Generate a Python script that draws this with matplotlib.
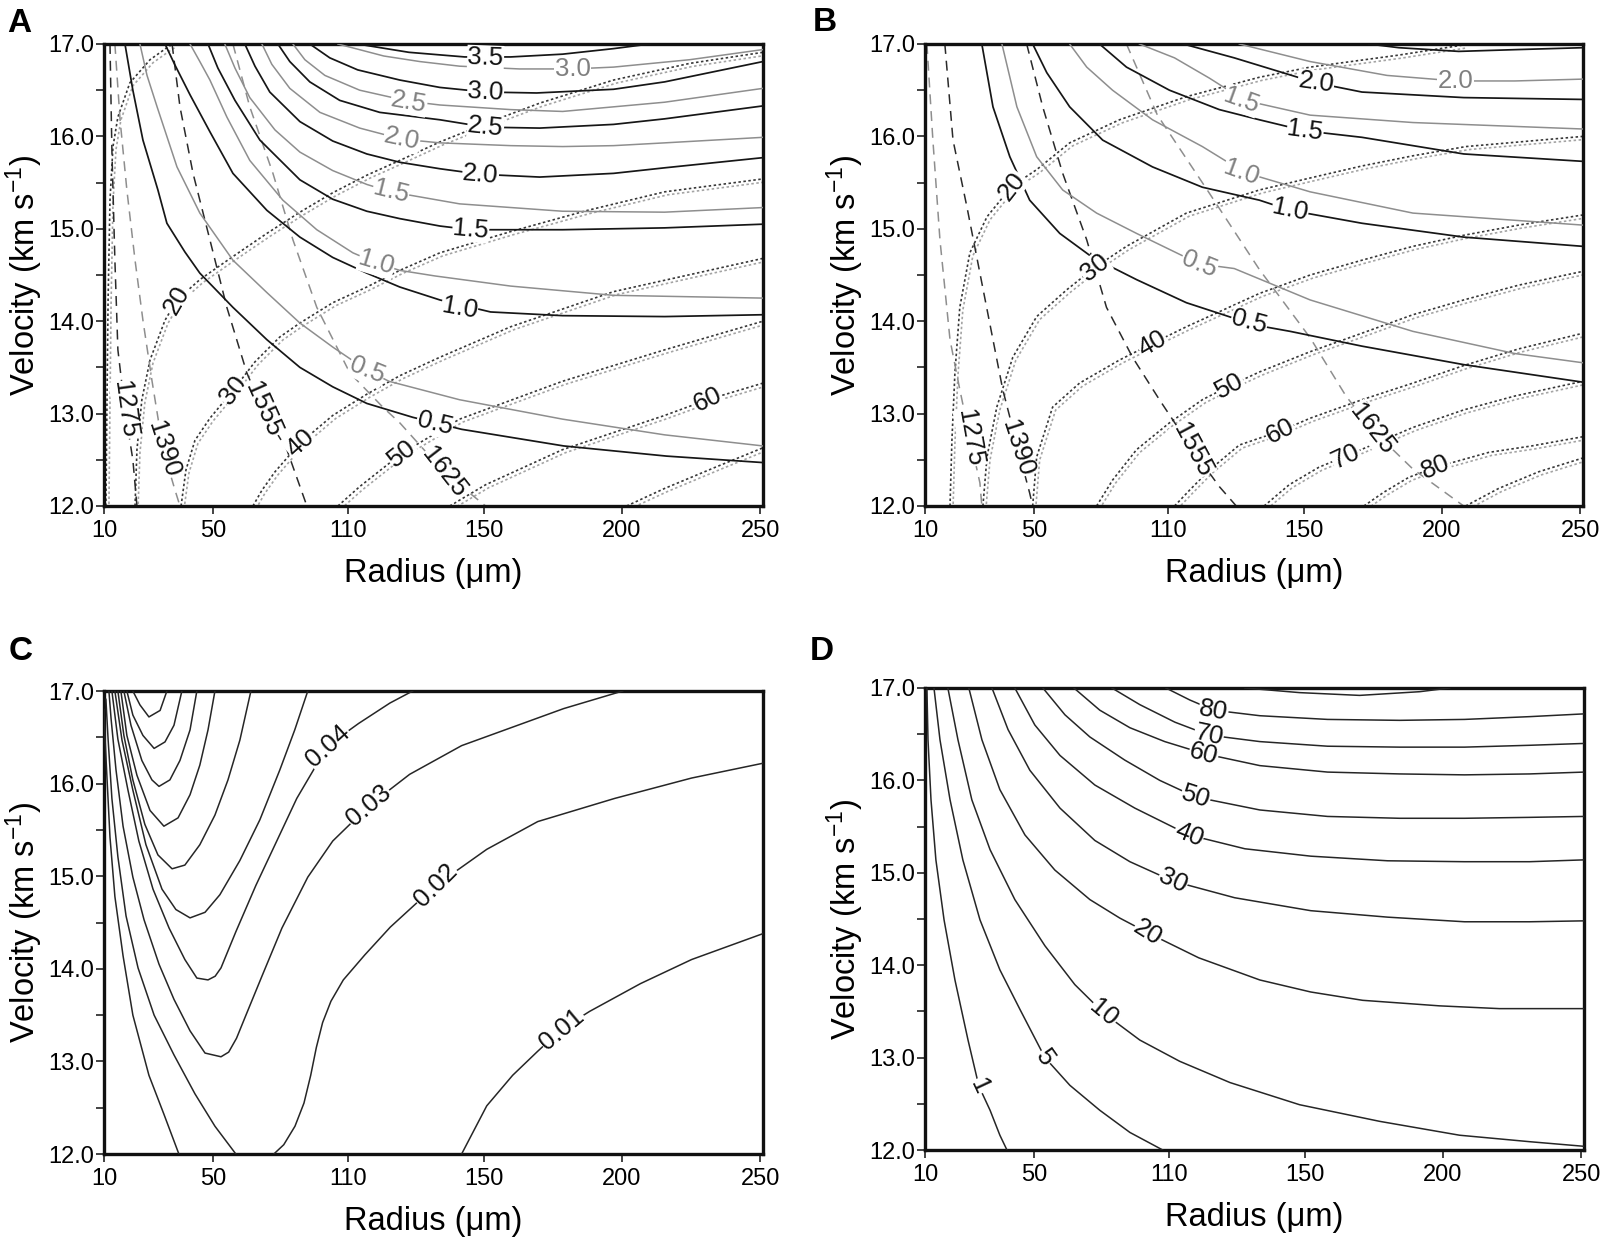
import numpy as np
import matplotlib
matplotlib.use("Agg")
import matplotlib.pyplot as plt
import matplotlib.transforms as mtransforms

plt.rcParams['font.family'] = ['Liberation Sans', 'DejaVu Sans']
plt.rcParams['mathtext.fontset'] = 'custom'
plt.rcParams['mathtext.rm'] = 'Liberation Sans'
plt.rcParams['mathtext.it'] = 'Liberation Sans:italic'

# axis ticks (the radius axis of the original is not linear: ticks are placed unevenly)
radius_ticks = [10, 50, 110, 150, 200, 250]
radius_tick_place = [0, 109, 244, 380, 518, 657]
velocity_ticks = [12.0, 13.0, 14.0, 15.0, 16.0, 17.0]

# ---------------- Panel A ----------------
# solid contours, black (k) and gray (g)
a_k05_r = [17.7, 20.6, 24.3, 29.8, 33.1, 39.7, 45.2, 58.9, 74.0, 88.7, 103.3, 115.6, 129.1, 143.5, 179.0, 216.2, 250.7]
a_k05_v = [17.00, 16.50, 15.96, 15.42, 15.06, 14.75, 14.52, 14.15, 13.80, 13.50, 13.29, 13.11, 12.96, 12.83, 12.65, 12.54, 12.47]
a_g05_r = [23.2, 25.8, 29.5, 36.8, 45.2, 58.9, 74.0, 88.7, 103.3, 115.6, 122.1, 142.9, 178.6, 215.5, 250.7]
a_g05_v = [17.00, 16.66, 16.32, 15.67, 15.17, 14.66, 14.31, 13.98, 13.72, 13.47, 13.35, 13.15, 12.94, 12.77, 12.65]
a_k10_r = [32.4, 36.1, 41.6, 48.9, 58.9, 74.0, 88.7, 103.3, 115.6, 125.3, 137.1, 152.5, 178.6, 215.5, 250.7]
a_k10_v = [17.00, 16.77, 16.45, 16.05, 15.60, 15.20, 14.91, 14.69, 14.52, 14.37, 14.23, 14.10, 14.06, 14.05, 14.07]
a_g10_r = [41.6, 45.2, 48.9, 56.2, 66.4, 81.1, 96.2, 111.5, 118.5, 125.3, 135.6, 159.8, 197.1, 250.7]
a_g10_v = [17.00, 16.81, 16.61, 16.21, 15.74, 15.31, 14.99, 14.74, 14.63, 14.55, 14.49, 14.38, 14.28, 14.25]
a_k15_r = [48.2, 52.2, 59.8, 70.9, 88.7, 103.3, 115.6, 125.3, 137.1, 146.2, 178.6, 215.5, 250.7]
a_k15_v = [17.00, 16.74, 16.39, 15.96, 15.53, 15.32, 15.19, 15.11, 15.03, 14.99, 14.99, 15.01, 15.05]
a_g15_r = [55.3, 59.8, 66.4, 77.6, 88.7, 103.3, 115.6, 122.7, 142.9, 178.6, 215.5, 250.7]
a_g15_v = [17.00, 16.74, 16.42, 16.07, 15.83, 15.63, 15.48, 15.40, 15.27, 15.19, 15.18, 15.23]
a_k20_r = [64.2, 68.7, 75.3, 88.7, 103.3, 115.6, 125.3, 137.1, 149.1, 170.3, 197.1, 215.5, 250.7]
a_k20_v = [17.00, 16.76, 16.48, 16.16, 15.95, 15.81, 15.72, 15.65, 15.59, 15.56, 15.60, 15.66, 15.77]
a_g20_r = [71.8, 76.2, 84.2, 97.6, 113.5, 125.9, 137.1, 159.8, 178.6, 197.1, 215.5, 250.7]
a_g20_v = [17.00, 16.78, 16.52, 16.26, 16.09, 15.97, 15.93, 15.90, 15.89, 15.90, 15.93, 15.99]
a_k25_r = [78.9, 84.2, 93.1, 106.4, 119.4, 137.1, 150.7, 170.3, 197.1, 215.5, 250.7]
a_k25_v = [17.00, 16.81, 16.59, 16.39, 16.26, 16.18, 16.10, 16.09, 16.13, 16.19, 16.33]
a_g25_r = [85.6, 90.9, 99.8, 113.5, 128.0, 137.1, 159.8, 178.6, 197.1, 215.5, 250.7]
a_g25_v = [17.00, 16.83, 16.66, 16.50, 16.38, 16.34, 16.29, 16.27, 16.32, 16.37, 16.52]
a_k30_r = [93.1, 102.0, 112.9, 125.3, 137.1, 150.7, 169.2, 197.1, 215.5, 250.7]
a_k30_v = [17.00, 16.85, 16.72, 16.61, 16.53, 16.48, 16.47, 16.51, 16.59, 16.81]
a_g30_r = [105.6, 120.6, 131.2, 142.9, 163.0, 182.2, 197.1, 224.5, 250.7]
a_g30_v = [17.00, 16.87, 16.81, 16.76, 16.73, 16.73, 16.75, 16.83, 16.94]
a_k35_r = [112.9, 128.0, 144.4, 159.8, 178.6, 197.1, 210.1]
a_k35_v = [17.00, 16.91, 16.86, 16.86, 16.89, 16.95, 17.00]

# double dotted contours
a_d10_r = [10.7, 11.1, 11.5, 12.2, 13.3, 15.1, 19.5, 26.9, 33.1, 35.3]
a_d10_v = [12.00, 13.15, 14.23, 15.31, 15.89, 16.21, 16.58, 16.83, 16.96, 17.00]
a_d20_r = [21.4, 22.1, 23.9, 26.9, 32.4, 36.8, 45.2, 58.9, 74.0, 88.7, 103.3, 115.6, 125.3, 137.1, 152.5, 170.3, 197.1, 224.5, 250.7]
a_d20_v = [12.00, 12.61, 13.15, 13.58, 14.01, 14.23, 14.45, 14.70, 14.95, 15.18, 15.39, 15.58, 15.74, 15.94, 16.16, 16.36, 16.61, 16.79, 16.91]
a_d30_r = [38.3, 40.1, 43.4, 48.9, 58.9, 68.7, 79.8, 88.7, 103.3, 115.6, 125.3, 137.1, 159.8, 187.7, 215.5, 250.7]
a_d30_v = [12.00, 12.39, 12.71, 12.95, 13.25, 13.56, 13.83, 13.98, 14.20, 14.37, 14.55, 14.74, 14.97, 15.20, 15.40, 15.54]
a_d40_r = [67.8, 71.8, 77.6, 88.7, 103.3, 115.6, 125.3, 137.1, 159.8, 197.1, 250.7]
a_d40_v = [12.00, 12.17, 12.37, 12.68, 12.98, 13.21, 13.41, 13.61, 13.94, 14.32, 14.68]
a_d50_r = [105.6, 113.5, 125.9, 142.9, 178.6, 215.5, 250.7]
a_d50_v = [12.00, 12.21, 12.57, 12.94, 13.35, 13.69, 14.00]
a_d60_r = [140.0, 150.7, 178.6, 215.5, 230.9, 250.7]
a_d60_v = [12.00, 12.23, 12.61, 12.98, 13.15, 13.33]
a_d70_r = [201.8, 215.5, 233.8, 250.7]
a_d70_v = [12.00, 12.19, 12.42, 12.63]

# dashed contours
a_1275_r = [12.2, 12.9, 14.0, 15.1, 17.7, 20.6, 22.1]
a_1275_v = [17.00, 15.85, 14.66, 13.69, 13.04, 12.50, 12.00]
a_1390_r = [14.0, 15.9, 18.4, 21.4, 24.3, 27.6, 31.7, 36.1, 37.9]
a_1390_v = [17.00, 16.18, 15.42, 14.66, 14.01, 13.36, 12.61, 12.17, 12.00]
a_1555_r = [35.0, 37.9, 42.7, 48.9, 56.2, 65.1, 72.2, 82.9, 91.8]
a_1555_v = [17.00, 16.32, 15.60, 14.88, 14.15, 13.44, 13.04, 12.61, 12.00]
a_1625_r = [58.9, 66.4, 76.7, 85.6, 96.2, 110.6, 120.3, 125.3, 138.5, 150.7]
a_1625_v = [17.00, 16.32, 15.60, 14.88, 14.15, 13.44, 13.07, 12.90, 12.36, 12.00]

a_lab_txt = ["3.5", "3.0", "3.0", "2.5", "2.5", "2.0", "2.0", "1.5", "1.5", "1.0", "1.0", "0.5", "0.5",
             "20", "30", "40", "50", "60", "1275", "1390", "1555", "1625"]
a_lab_r = [150.7, 182.2, 150.7, 128.0, 150.7, 125.9, 149.1, 122.7, 146.2, 118.5, 142.9, 115.6, 135.6,
           36.8, 58.9, 88.7, 125.9, 230.9, 17.7, 31.7, 72.2, 138.5]
a_lab_v = [16.85, 16.73, 16.48, 16.37, 16.10, 15.97, 15.59, 15.40, 14.99, 14.63, 14.14, 13.47, 12.89,
           14.23, 13.25, 12.68, 12.57, 13.15, 13.04, 12.61, 13.04, 12.36]
a_lab_gray = [0, 1, 0, 1, 0, 1, 0, 1, 0, 1, 0, 1, 0, 0, 0, 0, 0, 0, 0, 0, 0, 0]
a_lab_rot = [-2, 0, -3, -10, -6, -12, -5, -14, -5, -17, -10, -22, -14, 60, 52, 42, 38, 25, -82, -72, -66, -52]

# ---------------- Panel B ----------------
b_k05_r = [30.9, 35.0, 41.2, 48.5, 61.6, 76.2, 95.8, 115.3, 135.3, 145.9, 171.0, 207.9, 250.7]
b_k05_v = [17.00, 16.32, 15.78, 15.31, 14.95, 14.69, 14.45, 14.20, 13.96, 13.89, 13.73, 13.53, 13.34]
b_g05_r = [38.3, 43.8, 51.3, 62.9, 78.0, 95.8, 119.1, 129.4, 152.2, 189.5, 226.3, 250.7]
b_g05_v = [17.00, 16.32, 15.78, 15.42, 15.17, 14.95, 14.62, 14.57, 14.23, 13.89, 13.65, 13.55]
b_k10_r = [49.6, 55.8, 66.0, 80.7, 102.9, 120.0, 136.8, 145.9, 171.0, 207.9, 250.7]
b_k10_v = [17.00, 16.69, 16.32, 15.96, 15.67, 15.45, 15.31, 15.20, 15.06, 14.91, 14.81]
b_g10_r = [66.0, 73.6, 85.1, 102.9, 120.0, 132.4, 152.2, 189.5, 250.7]
b_g10_v = [17.00, 16.75, 16.50, 16.18, 15.89, 15.61, 15.40, 15.17, 15.04]
b_k15_r = [79.3, 91.3, 110.3, 125.0, 136.8, 150.4, 171.0, 207.9, 250.7]
b_k15_v = [17.00, 16.75, 16.50, 16.29, 16.18, 16.06, 15.99, 15.81, 15.73]
b_g15_r = [97.1, 111.8, 122.1, 132.4, 152.2, 189.5, 250.7]
b_g15_v = [17.00, 16.85, 16.63, 16.39, 16.23, 16.15, 16.08]
b_k20_r = [114.4, 129.4, 154.3, 171.0, 207.9, 250.7]
b_k20_v = [17.00, 16.85, 16.58, 16.48, 16.42, 16.40]
b_g20_r = [130.9, 152.2, 180.1, 205.0, 226.3, 250.7]
b_g20_v = [17.00, 16.81, 16.66, 16.60, 16.60, 16.62]
b_k25_r = [173.5, 184.4, 206.1, 227.7, 250.7]
b_k25_v = [17.00, 16.96, 16.92, 16.94, 16.96]

b_d20_r = [19.2, 19.9, 21.0, 22.8, 26.5, 32.8, 41.9, 51.3, 66.0, 88.2, 115.3, 136.8, 152.2, 184.4, 207.9]
b_d20_v = [12.00, 12.71, 13.44, 14.15, 14.74, 15.13, 15.46, 15.64, 15.93, 16.18, 16.43, 16.64, 16.75, 16.88, 16.99]
b_d30_r = [31.3, 32.8, 36.4, 42.3, 51.3, 64.7, 77.1, 91.3, 115.3, 136.8, 152.2, 171.0, 189.5, 208.7, 250.7]
b_d30_v = [12.00, 12.53, 13.07, 13.61, 14.05, 14.34, 14.58, 14.81, 15.17, 15.42, 15.55, 15.68, 15.79, 15.89, 16.00]
b_d40_r = [49.6, 51.3, 58.4, 70.4, 88.2, 102.9, 115.3, 136.8, 152.2, 171.0, 189.5, 207.9, 227.7, 250.7]
b_d40_v = [12.00, 12.53, 13.07, 13.33, 13.58, 13.76, 13.94, 14.30, 14.50, 14.66, 14.81, 14.93, 15.04, 15.15]
b_d50_r = [78.0, 85.1, 95.8, 110.3, 120.0, 128.0, 136.8, 152.2, 171.0, 189.5, 207.9, 227.7, 250.7]
b_d50_v = [12.00, 12.28, 12.61, 12.90, 13.15, 13.30, 13.45, 13.67, 13.87, 14.07, 14.23, 14.39, 14.54]
b_d60_r = [111.8, 116.2, 122.1, 130.9, 142.9, 152.2, 171.0, 189.5, 207.9, 227.7, 250.7]
b_d60_v = [12.00, 12.17, 12.39, 12.66, 12.81, 12.95, 13.15, 13.33, 13.52, 13.70, 13.87]
b_d70_r = [138.2, 145.6, 155.4, 165.2, 189.5, 207.9, 226.3, 250.7]
b_d70_v = [12.00, 12.23, 12.42, 12.54, 12.85, 13.04, 13.19, 13.35]
b_d80_r = [171.7, 179.0, 188.0, 197.8, 216.9, 232.4, 250.7]
b_d80_v = [12.00, 12.15, 12.31, 12.42, 12.58, 12.65, 12.75]
b_d90_r = [208.6, 220.5, 234.9, 250.7]
b_d90_v = [12.00, 12.19, 12.37, 12.52]

b_1275_r = [10.7, 12.9, 15.5, 19.2, 22.8, 26.5, 30.2, 30.9]
b_1275_v = [17.00, 15.96, 14.88, 13.80, 13.26, 12.74, 12.25, 12.00]
b_1390_r = [17.3, 20.3, 25.4, 30.2, 35.0, 38.6, 44.1, 48.5, 49.6]
b_1390_v = [17.00, 15.96, 15.24, 14.52, 13.80, 13.26, 12.63, 12.14, 12.00]
b_1555_r = [47.4, 54.0, 62.9, 73.6, 82.4, 94.0, 106.0, 117.1, 125.0, 130.0]
b_1555_v = [17.00, 16.32, 15.60, 14.88, 14.15, 13.61, 13.15, 12.61, 12.21, 12.00]
b_1625_r = [91.3, 105.1, 121.8, 136.8, 152.2, 165.2, 174.6, 189.5, 207.9]
b_1625_v = [17.00, 16.23, 15.40, 14.56, 13.82, 13.19, 12.83, 12.40, 12.00]

b_lab_txt = ["2.0", "2.0", "1.5", "1.5", "1.0", "1.0", "0.5", "0.5",
             "20", "30", "40", "50", "60", "70", "80", "1275", "1390", "1555", "1625"]
b_lab_r = [154.3, 205.0, 131.5, 150.4, 131.5, 145.9, 119.1, 133.8,
           41.9, 77.1, 102.9, 128.0, 142.9, 165.2, 197.8, 26.5, 44.1, 117.1, 174.6]
b_lab_v = [16.58, 16.60, 16.39, 16.06, 15.61, 15.20, 14.62, 13.99,
           15.46, 14.58, 13.76, 13.30, 12.81, 12.54, 12.42, 12.74, 12.63, 12.61, 12.83]
b_lab_gray = [0, 1, 1, 0, 1, 0, 1, 0, 0, 0, 0, 0, 0, 0, 0, 0, 0, 0, 0]
b_lab_rot = [-8, 0, -20, -8, -20, -12, -22, -15, 52, 38, 30, 28, 27, 25, 22, -80, -72, -62, -52]

# ---------------- Panel C ----------------
c_001a_r = [10.0, 10.4, 11.1, 12.2, 14.0, 17.0, 20.6, 26.5, 32.0, 37.5]
c_001a_v = [16.80, 16.48, 16.06, 15.42, 14.78, 14.14, 13.50, 12.85, 12.43, 12.00]
c_001b_r = [143.5, 151.1, 160.5, 169.6, 178.3, 188.4, 206.8, 225.2, 250.7]
c_001b_v = [12.00, 12.52, 12.85, 13.11, 13.35, 13.54, 13.84, 14.10, 14.38]
c_002a_r = [10.7, 11.5, 12.9, 15.1, 18.1, 22.5, 28.4, 35.7, 43.4, 50.9, 60.2]
c_002a_v = [16.91, 16.48, 15.84, 15.21, 14.57, 14.01, 13.50, 13.07, 12.65, 12.30, 12.00]
c_002b_r = [77.1, 81.5, 86.5, 90.5, 93.5, 96.0, 98.8, 102.5, 108.0, 115.0, 122.5, 135.9, 151.1, 169.6, 197.5, 225.2, 250.7]
c_002b_v = [12.00, 12.10, 12.30, 12.55, 12.85, 13.15, 13.42, 13.65, 13.88, 14.15, 14.45, 14.90, 15.29, 15.59, 15.84, 16.06, 16.22]
c_003_r = [11.8, 12.6, 14.4, 17.0, 20.6, 24.7, 30.2, 35.7, 41.6, 47.1, 53.6, 57.0, 60.5, 64.7, 71.8, 80.7,
           92.2, 103.3, 116.2, 128.2, 143.5, 160.5, 179.0, 200.4]
c_003_v = [17.00, 16.70, 16.15, 15.54, 14.99, 14.53, 14.05, 13.67, 13.33, 13.09, 13.05, 13.10, 13.25, 13.50, 13.92, 14.44,
           14.99, 15.38, 15.76, 16.10, 16.41, 16.61, 16.81, 17.00]
c_004_r = [12.9, 15.1, 18.8, 22.8, 28.0, 33.9, 39.7, 44.1, 48.2, 51.0, 53.6, 60.2, 69.1, 78.4, 87.3, 101.1, 113.2, 122.4, 129.1]
c_004_v = [17.00, 16.48, 15.93, 15.38, 14.86, 14.44, 14.10, 13.90, 13.88, 13.92, 14.01, 14.40, 14.90, 15.38, 15.84, 16.41, 16.65, 16.87, 17.00]
c_005_r = [14.0, 16.6, 20.6, 25.4, 31.3, 36.4, 41.6, 47.1, 53.1, 62.0, 70.9, 79.8, 86.4, 92.2]
c_005_v = [17.00, 16.47, 15.93, 15.34, 14.86, 14.64, 14.55, 14.61, 14.80, 15.17, 15.61, 16.15, 16.58, 17.00]
c_006_r = [15.1, 17.3, 20.6, 25.0, 29.8, 35.0, 39.7, 45.2, 50.9, 56.7, 62.0, 66.9]
c_006_v = [17.00, 16.52, 16.04, 15.56, 15.23, 15.08, 15.12, 15.34, 15.66, 16.04, 16.47, 17.00]
c_007_r = [16.2, 18.4, 22.1, 26.9, 32.0, 37.2, 41.6, 45.2, 48.2, 50.9]
c_007_v = [17.00, 16.52, 16.09, 15.71, 15.54, 15.63, 15.88, 16.20, 16.58, 17.00]
c_008_r = [17.3, 19.9, 23.9, 27.6, 30.2, 34.2, 37.9, 41.6, 44.1]
c_008_v = [17.00, 16.63, 16.25, 16.04, 15.97, 16.04, 16.25, 16.58, 17.00]
c_009_r = [18.4, 20.6, 24.3, 28.4, 32.4, 35.7, 38.6]
c_009_v = [17.00, 16.74, 16.52, 16.38, 16.45, 16.63, 17.00]
c_010_r = [20.6, 23.2, 26.5, 30.6, 33.1]
c_010_v = [17.00, 16.85, 16.72, 16.79, 17.00]

c_lab_txt = ["0.04", "0.03", "0.02", "0.01"]
c_lab_r = [101.1, 116.2, 135.9, 178.3]
c_lab_v = [16.41, 15.76, 14.90, 13.35]
c_lab_rot = [42, 40, 45, 40]

# ---------------- Panel D ----------------
d_01_r = [10.7, 11.1, 12.2, 14.0, 17.0, 21.0, 25.8, 29.8, 33.9, 37.5, 40.1]
d_01_v = [17.00, 16.44, 15.79, 15.14, 14.49, 13.84, 13.19, 12.69, 12.43, 12.16, 12.00]
d_05_r = [13.3, 15.5, 19.2, 23.9, 30.2, 37.5, 44.9, 54.9, 66.0, 79.3, 92.7, 107.3]
d_05_v = [17.00, 16.44, 15.79, 15.14, 14.49, 13.95, 13.52, 13.00, 12.70, 12.43, 12.19, 12.00]
d_10_r = [18.4, 22.1, 27.2, 33.9, 43.0, 54.9, 68.2, 81.1, 97.1, 113.2, 128.0, 148.5, 177.2, 206.1, 231.3, 250.7]
d_10_v = [17.00, 16.44, 15.79, 15.25, 14.71, 14.21, 13.79, 13.48, 13.19, 12.96, 12.73, 12.49, 12.31, 12.16, 12.09, 12.04]
d_20_r = [26.1, 30.9, 37.5, 46.7, 59.3, 74.9, 88.2, 100.7, 118.8, 136.8, 152.2, 171.0, 198.9, 220.5, 250.7]
d_20_v = [17.00, 16.44, 15.90, 15.41, 15.03, 14.71, 14.51, 14.35, 14.08, 13.84, 13.71, 13.62, 13.56, 13.53, 13.53]
d_30_r = [34.6, 40.5, 48.5, 61.6, 77.1, 92.7, 111.2, 129.4, 152.2, 180.1, 207.9, 231.3, 250.7]
d_30_v = [17.00, 16.55, 16.11, 15.70, 15.35, 15.12, 14.91, 14.73, 14.59, 14.52, 14.47, 14.47, 14.48]
d_40_r = [43.0, 50.4, 61.6, 77.1, 94.9, 115.9, 132.4, 152.2, 180.1, 207.9, 231.3, 250.7]
d_40_v = [17.00, 16.60, 16.27, 15.95, 15.70, 15.41, 15.26, 15.18, 15.13, 15.12, 15.12, 15.14]
d_50_r = [54.0, 63.8, 74.9, 90.4, 106.0, 117.9, 136.8, 158.3, 184.4, 207.9, 231.3, 250.7]
d_50_v = [17.00, 16.71, 16.47, 16.22, 16.00, 15.82, 15.68, 15.61, 15.59, 15.59, 15.60, 15.61]
d_60_r = [67.8, 79.3, 92.7, 108.2, 120.3, 136.8, 158.3, 184.4, 207.9, 231.3, 250.7]
d_60_v = [17.00, 16.76, 16.57, 16.42, 16.29, 16.16, 16.09, 16.07, 16.06, 16.07, 16.09]
d_70_r = [84.7, 97.1, 111.8, 121.8, 136.8, 158.3, 184.4, 207.9, 231.3, 250.7]
d_70_v = [17.00, 16.82, 16.63, 16.49, 16.42, 16.37, 16.36, 16.36, 16.38, 16.40]
d_80_r = [108.7, 116.2, 123.2, 136.8, 158.3, 184.4, 207.9, 231.3, 250.7]
d_80_v = [17.00, 16.87, 16.76, 16.70, 16.66, 16.65, 16.66, 16.69, 16.72]
d_90_r = [132.4, 148.5, 169.9, 191.7, 202.5]
d_90_v = [17.00, 16.95, 16.92, 16.96, 17.00]

d_lab_txt = ["80", "70", "60", "50", "40", "30", "20", "10", "5", "1"]
d_lab_r = [123.2, 121.8, 120.3, 117.9, 115.9, 111.2, 100.7, 81.1, 54.9, 29.8]
d_lab_v = [16.76, 16.49, 16.29, 15.82, 15.41, 14.91, 14.35, 13.48, 13.00, 12.69]
d_lab_rot = [-10, -12, -15, -18, -22, -25, -32, -40, -55, -65]

# ---------------- drawing ----------------
BLACK = '#161616'
GRAY = '#8e8e8e'
SCALE_VALS = radius_ticks + [260]
SCALE_POS = radius_tick_place + [693]


def fwd(r):
    return np.interp(r, SCALE_VALS, SCALE_POS)


def inv(p):
    return np.interp(p, SCALE_POS, SCALE_VALS)


def setup_axes(ax):
    ax.set_xscale('function', functions=(fwd, inv))
    ax.set_xlim(10, 250.7)
    ax.set_ylim(12, 17)
    ax.set_xticks(radius_ticks)
    ax.set_xticklabels([str(t) for t in radius_ticks])
    ax.set_xticks([], minor=True)
    ax.set_yticks(velocity_ticks)
    ax.set_yticklabels([f"{t:.1f}" for t in velocity_ticks])
    ax.set_yticks([12.5, 13.5, 14.5, 15.5, 16.5], minor=True)
    ax.tick_params(axis='both', which='both', direction='out', length=6, width=1.2,
                   labelsize=17, color='#222222')
    ax.tick_params(axis='y', which='both', pad=1)
    ax.tick_params(axis='x', which='both', pad=4)
    for sp in ax.spines.values():
        sp.set_linewidth(2.4)
        sp.set_color('#111111')
    ax.set_xlabel('Radius (μm)', fontsize=23.5)
    ax.set_ylabel('Velocity (km s$^{-1}$)', fontsize=23.5)
    ax.xaxis.set_label_coords(0.5, -0.112)
    ax.yaxis.set_label_coords(-0.090, 0.5)


def solid(ax, curves, color, lw):
    for r, v in curves:
        ax.plot(r, v, color=color, lw=lw, solid_joinstyle='round', zorder=3)


def dashed(ax, curves, color):
    for r, v in curves:
        ax.plot(r, v, color=color, lw=1.1, dashes=(6.5, 4.5), zorder=2)


def dotted(fig, ax, curves):
    shift = mtransforms.offset_copy(ax.transData, fig=fig, x=3, y=-3, units='dots')
    for r, v in curves:
        ax.plot(r, v, color='#a4a4a4', lw=1.2, dashes=(1.5, 1.5), zorder=2, transform=shift)
        ax.plot(r, v, color='#383838', lw=1.2, dashes=(1.5, 1.5), zorder=2)


def labels(ax, txt, rr, vv, rot, gray=None):
    for i, s in enumerate(txt):
        col = '#808080' if (gray is not None and gray[i]) else '#111111'
        ax.text(rr[i], vv[i], s, rotation=rot[i], rotation_mode='anchor', ha='center', va='center',
                fontsize=18.5, color=col, zorder=5,
                bbox=dict(facecolor='white', edgecolor='none', pad=0.4))


fig = plt.figure(figsize=(16, 12.37), dpi=100)
axA = fig.add_axes([104 / 1600, 1 - 506 / 1237, 659 / 1600, 462 / 1237])
axB = fig.add_axes([925 / 1600, 1 - 506 / 1237, 658 / 1600, 462 / 1237])
axC = fig.add_axes([104 / 1600, 1 - 1154 / 1237, 659 / 1600, 463 / 1237])
axD = fig.add_axes([925 / 1600, 1 - 1150 / 1237, 659 / 1600, 462 / 1237])

# Panel A
setup_axes(axA)
dotted(fig, axA, [(a_d10_r, a_d10_v), (a_d20_r, a_d20_v), (a_d30_r, a_d30_v), (a_d40_r, a_d40_v),
                  (a_d50_r, a_d50_v), (a_d60_r, a_d60_v), (a_d70_r, a_d70_v)])
dashed(axA, [(a_1275_r, a_1275_v), (a_1555_r, a_1555_v)], '#2a2a2a')
dashed(axA, [(a_1390_r, a_1390_v), (a_1625_r, a_1625_v)], GRAY)
solid(axA, [(a_g05_r, a_g05_v), (a_g10_r, a_g10_v), (a_g15_r, a_g15_v), (a_g20_r, a_g20_v),
            (a_g25_r, a_g25_v), (a_g30_r, a_g30_v)], GRAY, 1.1)
solid(axA, [(a_k05_r, a_k05_v), (a_k10_r, a_k10_v), (a_k15_r, a_k15_v), (a_k20_r, a_k20_v),
            (a_k25_r, a_k25_v), (a_k30_r, a_k30_v), (a_k35_r, a_k35_v)], BLACK, 1.25)
labels(axA, a_lab_txt, a_lab_r, a_lab_v, a_lab_rot, a_lab_gray)

# Panel B
setup_axes(axB)
dotted(fig, axB, [(b_d20_r, b_d20_v), (b_d30_r, b_d30_v), (b_d40_r, b_d40_v), (b_d50_r, b_d50_v),
                  (b_d60_r, b_d60_v), (b_d70_r, b_d70_v), (b_d80_r, b_d80_v), (b_d90_r, b_d90_v)])
dashed(axB, [(b_1390_r, b_1390_v), (b_1555_r, b_1555_v)], '#2a2a2a')
dashed(axB, [(b_1275_r, b_1275_v), (b_1625_r, b_1625_v)], GRAY)
solid(axB, [(b_g05_r, b_g05_v), (b_g10_r, b_g10_v), (b_g15_r, b_g15_v), (b_g20_r, b_g20_v)], GRAY, 1.1)
solid(axB, [(b_k05_r, b_k05_v), (b_k10_r, b_k10_v), (b_k15_r, b_k15_v), (b_k20_r, b_k20_v),
            (b_k25_r, b_k25_v)], BLACK, 1.25)
labels(axB, b_lab_txt, b_lab_r, b_lab_v, b_lab_rot, b_lab_gray)

# Panel C
setup_axes(axC)
solid(axC, [(c_001a_r, c_001a_v), (c_001b_r, c_001b_v), (c_002a_r, c_002a_v), (c_002b_r, c_002b_v),
            (c_003_r, c_003_v), (c_004_r, c_004_v), (c_005_r, c_005_v), (c_006_r, c_006_v),
            (c_007_r, c_007_v), (c_008_r, c_008_v), (c_009_r, c_009_v), (c_010_r, c_010_v)], '#262626', 1.1)
labels(axC, c_lab_txt, c_lab_r, c_lab_v, c_lab_rot)

# Panel D
setup_axes(axD)
solid(axD, [(d_01_r, d_01_v), (d_05_r, d_05_v), (d_10_r, d_10_v), (d_20_r, d_20_v), (d_30_r, d_30_v),
            (d_40_r, d_40_v), (d_50_r, d_50_v), (d_60_r, d_60_v), (d_70_r, d_70_v), (d_80_r, d_80_v),
            (d_90_r, d_90_v)], '#262626', 1.1)
labels(axD, d_lab_txt, d_lab_r, d_lab_v, d_lab_rot)

# panel letters
for letter, x, y in [('A', 7, 32), ('B', 813, 31), ('C', 9, 660), ('D', 810, 660)]:
    fig.text(x / 1600, 1 - y / 1237, letter, fontsize=24, fontweight='bold', ha='left', va='baseline')

fig.savefig('out.png', dpi=100)
